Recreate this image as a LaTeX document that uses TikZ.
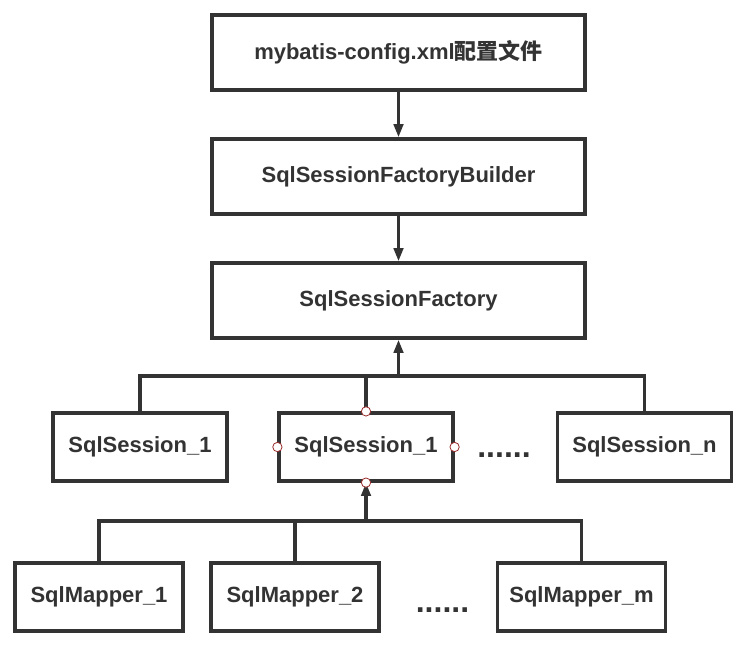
\documentclass[tikz,border=0pt]{standalone}
\usepackage{fontspec}
\setmainfont{Liberation Sans}
\newfontfamily\cjk{Noto Sans CJK SC}
\usetikzlibrary{arrows.meta}
\definecolor{ink}{HTML}{333333}
\definecolor{portred}{HTML}{9B2C2C}
\tikzset{box/.style={draw=ink, line width=2.4pt, inner sep=0pt, fill=white, text=ink, font=\fontsize{16.5}{20}\selectfont\bfseries},
  link/.style={draw=ink, line width=2.4pt},
  port/.style={circle, draw=portred, fill=white, line width=0.6pt, inner sep=0pt, minimum size=7pt},
  dots/.style={anchor=base, text=ink, font=\fontsize{24}{28}\selectfont\bfseries}}
\newcommand{\fabox}[5] {\node at (#1) (#2) [box, minimum width=#3, minimum height=#4] {#5};}
\newcommand{\faport}[1] {\node at (#1) [port] {};}
\newcommand{\falink}[2] {\draw [link] (#1) -- (#2);}
\newcommand{\faarrow}[2] {\draw [link, line width=2.8pt, -{Triangle[length=10pt,width=7pt]}] (#1) -- (#2);}

\begin{document}
\begin{tikzpicture}[x=0.75pt, y=-0.75pt]
\useasboundingbox (0,0) rectangle (748,647);

\fabox {398.5,52.5} {config} {279.75pt} {56.25pt} {mybatis-config.xml{\cjk 配置文件}};
\fabox {398.5,176.5} {builder} {279.75pt} {56.25pt} {SqlSessionFactoryBuilder};
\fabox {398.5,300.5} {factory} {279.75pt} {56.25pt} {SqlSessionFactory};

\fabox {140,447} {sess1} {130.5pt} {51pt} {SqlSession\_1};
\fabox {366,447} {sess2} {130.5pt} {51pt} {SqlSession\_1};
\fabox {644.5,447} {sessn} {130pt} {51pt} {SqlSession\_n};
\node at (504,457) (sdots) [dots] {......};

\fabox {99,597} {map1} {126pt} {51pt} {SqlMapper\_1};
\fabox {295,597} {map2} {126pt} {51pt} {SqlMapper\_2};
\fabox {581.5,597} {mapm} {125.5pt} {51pt} {SqlMapper\_m};
\node at (442.5,612) (mdots) [dots] {......};

\coordinate (sjoin) at (398.5,376);
\coordinate (mjoin) at (366,521);

\faarrow{config}{builder};
\faarrow{builder}{factory};

\draw [link] (sess1.north) |- (sjoin);
\draw [link] (sessn.north) |- (sjoin);
\falink{sess2.north}{sess2.north |- sjoin};
\faarrow{sjoin}{sjoin |- factory.south};

\draw [link] (map1.north) |- (mjoin);
\draw [link] (mapm.north) |- (mjoin);
\falink{map2.north}{map2.north |- mjoin};
\faarrow{mjoin}{sess2.south};

\faport{sess2.north};
\faport{sess2.south};
\faport{sess2.west};
\faport{sess2.east};
\end{tikzpicture}
\end{document}
